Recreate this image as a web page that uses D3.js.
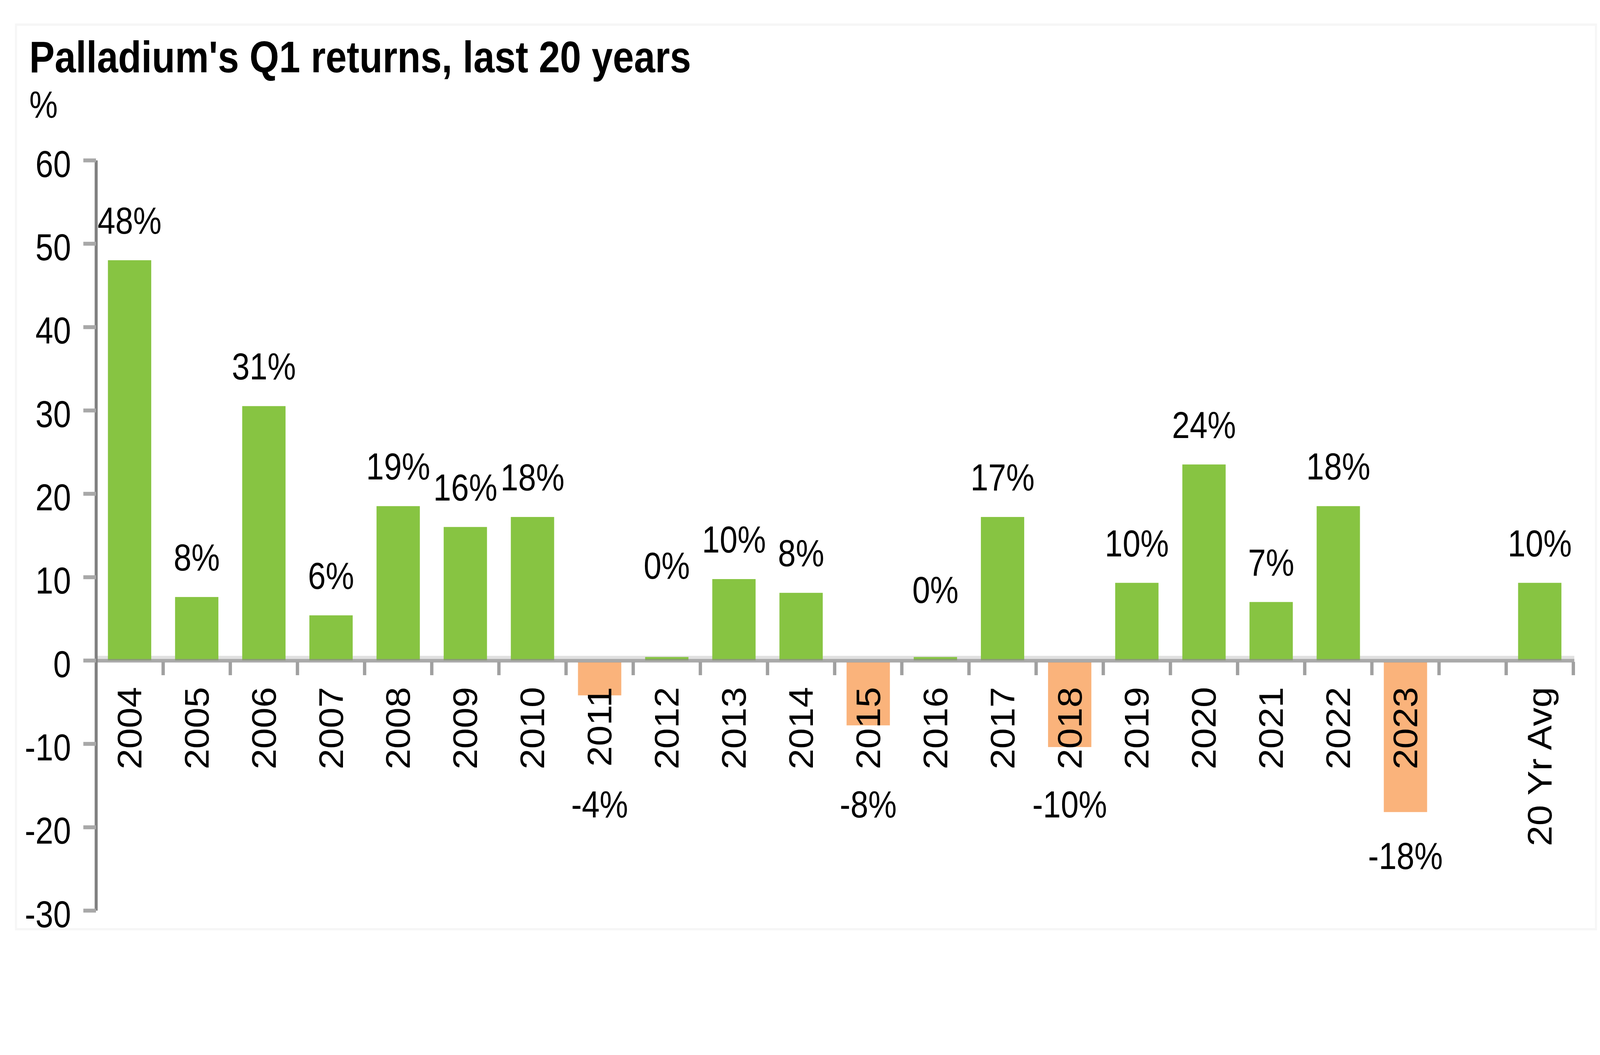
<!DOCTYPE html>
<html>
<head>
<meta charset="utf-8">
<script src="https://cdn.jsdelivr.net/npm/d3@7/dist/d3.min.js"></script>
<style>
  html, body { margin: 0; padding: 0; background: #ffffff; overflow: hidden; width: 100%; height: 100%; }
  svg { display: block; width: 100vw; height: 100vh; }
  text { font-family: "Liberation Sans", Arial, sans-serif; fill: #000; }
</style>
</head>
<body>
<svg id="chart" viewBox="0 0 4800 2700" preserveAspectRatio="none"></svg>
<script>
// ---- data ----
const categories = ["2004","2005","2006","2007","2008","2009","2010","2011","2012","2013",
                    "2014","2015","2016","2017","2018","2019","2020","2021","2022","2023","","20 Yr Avg"];
const values = [48.0, 7.6, 30.5, 5.4, 18.5, 16.0, 17.2, -4.2, 0.4, 9.75,
                8.1, -7.8, 0.4, 17.2, -10.4, 9.3, 23.5, 7.0, 18.5, -18.2, null, 9.3];
const valueLabels = ["48%","8%","31%","6%","19%","16%","18%","-4%","0%","10%",
                     "8%","-8%","0%","17%","-10%","10%","24%","7%","18%","-18%","","10%"];
// data-unit anchor used for a few labels that sit away from their bars
const labelAnchor = [null,null,null,null,null,null,null,null,6.6,null,
                     null,null,3.7,null,null,null,null,null,null,null,null,null];
const yTicks = [60, 50, 40, 30, 20, 10, 0, -10, -20, -30];
const titleText = "Palladium's Q1 returns, last 20 years";
const unitText = "%";

// ---- layout ----
const svg = d3.select("#chart");
svg.append("rect").attr("width", 4800).attr("height", 2700).attr("fill", "#fff");
svg.append("rect").attr("x", 48).attr("y", 63).attr("width", 4740).attr("height", 2315)
   .attr("fill", "none").attr("stroke", "#f6f6f6").attr("stroke-width", 6);

const axisX = 288;
const y = d3.scaleLinear().domain([-30, 60]).range([2330, 410]);
const x = d3.scaleBand().domain(categories).range([axisX, 4720])
            .paddingInner(0.355).paddingOuter(0.1775);

const GREEN = "#87C442", ORANGE = "#FAB37B";
const FS = 96;

// title
svg.append("text").attr("x", 88).attr("y", 185)
   .attr("font-size", 114).attr("font-weight", "bold").text(titleText);
svg.append("text").attr("x", 88).attr("y", 301)
   .attr("font-size", 96).text(unitText);

// zero line light band (behind bars)
const y0 = y(0);
svg.append("line").attr("x1", axisX).attr("x2", 4723)
   .attr("y1", y0 - 7).attr("y2", y0 - 7)
   .attr("stroke", "#e0e0e0").attr("stroke-width", 9);

// bars
const idx = d3.range(categories.length).filter(i => values[i] !== null);
svg.append("g").selectAll("rect").data(idx).join("rect")
   .attr("x", i => x(categories[i]))
   .attr("width", x.bandwidth())
   .attr("y", i => values[i] >= 0 ? y(values[i]) : y0 + 5)
   .attr("height", i => values[i] >= 0 ? Math.max(0, y0 - y(values[i])) : Math.max(0, y(values[i]) - y0 - 5))
   .attr("fill", i => values[i] >= 0 ? GREEN : ORANGE);

// zero line dark band (over bars, semi transparent)
svg.append("line").attr("x1", axisX).attr("x2", 4723)
   .attr("y1", y0 + 1).attr("y2", y0 + 1)
   .attr("stroke", "#8c8c8c").attr("stroke-width", 9).attr("stroke-opacity", 0.75);

// x boundary ticks
const step = x.step();
const bounds = d3.range(1, categories.length + 1).map(k => x.range()[0] + k * step);
svg.append("g").selectAll("line").data(bounds).join("line")
   .attr("x1", d => d).attr("x2", d => d)
   .attr("y1", y0 + 4).attr("y2", y0 + 38)
   .attr("stroke", "#a0a0a0").attr("stroke-width", 10);

// y axis
const yAxis = d3.axisLeft(y).tickValues(yTicks).tickSize(38).tickSizeOuter(0).tickPadding(37)
                .tickFormat(d => String(d));
const gy = svg.append("g").attr("transform", `translate(${axisX},0)`).call(yAxis);
gy.select(".domain").attr("stroke", "#808080").attr("stroke-width", 9);
gy.selectAll(".tick line").attr("stroke", "#a8a8a8").attr("stroke-width", 10);
gy.selectAll(".tick text").attr("font-size", FS).attr("font-family", "Liberation Sans, Arial, sans-serif")
  .attr("fill", "#000").attr("dy", null).attr("y", 42);
gy.attr("font-size", FS);

// x category labels (rotated)
svg.append("g").selectAll("text").data(d3.range(categories.length)).join("text")
   .attr("transform", i => `translate(${x(categories[i]) + x.bandwidth() / 2},${y0 + 68}) rotate(-90) scale(0.93,1)`)
   .attr("text-anchor", "end").attr("dominant-baseline", "central")
   .attr("font-size", 102)
   .text(i => categories[i]);

// value labels
svg.append("g").selectAll("text").data(idx).join("text")
   .attr("x", i => x(categories[i]) + x.bandwidth() / 2)
   .attr("y", i => {
      const v = values[i];
      if (labelAnchor[i] !== null) return y(labelAnchor[i]) - 68;
      if (v >= 0) return y(v) - 68;
      return y(Math.min(v, -12)) + 146;
   })
   .attr("text-anchor", "middle")
   .attr("font-size", FS)
   .text(i => valueLabels[i]);
</script>
</body>
</html>
